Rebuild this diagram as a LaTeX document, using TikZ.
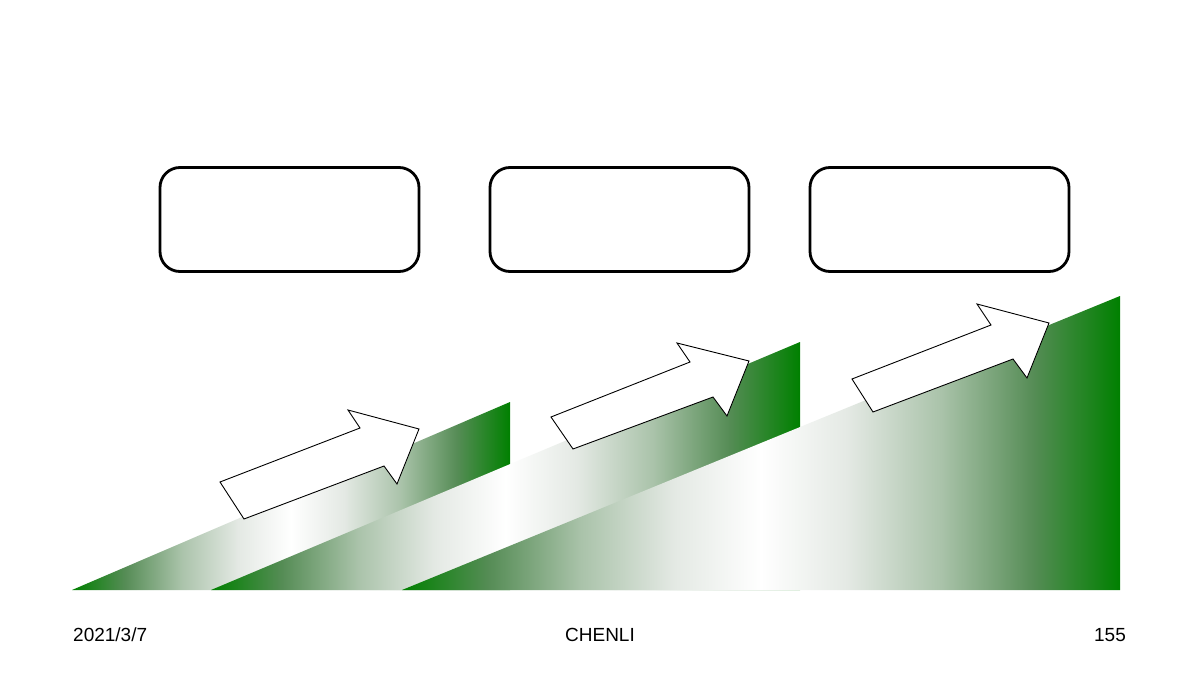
\documentclass[tikz,border=0pt]{standalone}
\usepackage{fontspec}
\setmainfont{Liberation Sans}
\definecolor{gA}{RGB}{0,128,0}
\definecolor{gB}{RGB}{85,140,85}
\definecolor{gC}{RGB}{170,195,170}
\definecolor{gD}{RGB}{228,233,228}
\pgfdeclarehorizontalshading{rampshade}{100bp}{color(0bp)=(gA); color(25bp)=(gA); color(31bp)=(gB); color(37.5bp)=(gC); color(44bp)=(gD); color(50bp)=(white); color(56bp)=(gD); color(62.5bp)=(gC); color(69bp)=(gB); color(75bp)=(gA); color(100bp)=(gA)}
\tikzset{
  ramp/.style={shading=rampshade, draw=none},
  blockarrow/.style={draw=black, fill=white, line width=0.9pt, line join=miter},
  emptybox/.style={draw=black, fill=white, line width=2.8pt, rounded corners=20pt, minimum width=259pt, minimum height=104pt, inner sep=0pt},
  footer/.style={font=\fontsize{19}{22}\selectfont, inner sep=0pt, anchor=base}
}
\begin{document}
\begin{tikzpicture}[x=1pt,y=-1pt]
\useasboundingbox (0,0) rectangle (1200,680);
\fill[white] (0,0) rectangle (1200,680);
% ramps
\shade[ramp] (72,590) -- (510,402) -- (510,590) -- cycle;
\shade[ramp] (211,590) -- (800,342) -- (800,590) -- cycle;
\shade[ramp] (402,590) -- (1120,296) -- (1120,590) -- cycle;
% arrows
\draw[blockarrow] (244,519) -- (220,482) -- (360,428) -- (348,410) -- (419,429) -- (397,484) -- (384,466) -- cycle;
\draw[blockarrow] (573,449) -- (551,417) -- (690,362) -- (677,343) -- (749,361) -- (727,416) -- (713,397) -- cycle;
\draw[blockarrow] (873,412) -- (852,379) -- (991,325) -- (977,304) -- (1049,323) -- (1027,378) -- (1013,359) -- cycle;
% boxes
\node[emptybox] (boxA) at (289.5,219.5) {};
\node[emptybox] (boxB) at (619.5,219.5) {};
\node[emptybox] (boxC) at (939.5,219.5) {};
% footer
\node[footer, anchor=base west] (date) at (73,641) {2021/3/7};
\node[footer] (author) at (600,641) {CHENLI};
\node[footer] (page) at (1110,641) {155};
\end{tikzpicture}
\end{document}
